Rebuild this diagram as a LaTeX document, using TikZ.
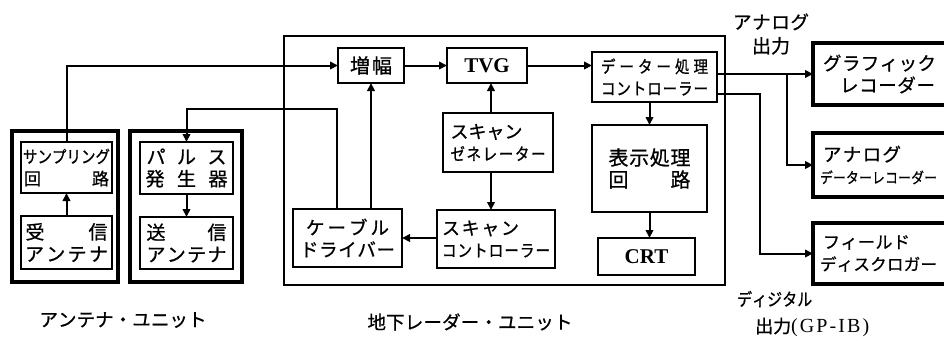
\documentclass[tikz,border=0pt]{standalone}
\usepackage{fontspec}
\setmainfont{Liberation Serif}
\newfontfamily\jp[FakeBold=0.8]{Noto Sans CJK JP}
\newfontfamily\jpc[FakeStretch=0.85,FakeBold=0.8]{Noto Sans CJK JP}
\usetikzlibrary{arrows.meta}
\def\jsA#1{#1\jsB}
\def\jsB#1{\ifx\relax#1\else\hfil#1\expandafter\jsB\fi}
\newcommand\spr[2]{\hbox to #1{\jsA#2\relax}}
\newcommand\fsz[1]{\fontsize{#1}{22}\selectfont}
\begin{document}
\begin{tikzpicture}[x=1pt,y=-1pt,
  box/.style={draw, line width=1.6pt, inner sep=0pt, outer sep=0pt, align=center},
  unit/.style={draw, line width=3.2pt, inner sep=0pt, outer sep=0pt},
  dev/.style={draw, line width=3.2pt, anchor=west, text width=130pt, inner xsep=10pt, inner ysep=0pt, outer sep=0pt, align=left, font=\jp\fsz{18.5}},
  arr/.style={line width=2pt, -{Triangle[length=8pt,width=7.5pt]}},
  lbl/.style={inner sep=0pt}]
\fill[white] (0,0) rectangle (944,340);
\useasboundingbox (0,0) rectangle (944,340);
\clip (0,0) rectangle (944,340);

% unit frames
\node[unit, minimum width=106pt, minimum height=151pt] (antA) at (65,206.5) {};
\node[unit, minimum width=112pt, minimum height=151pt] (antB) at (186,206.5) {};
\node[unit, line width=2.6pt, minimum width=441pt, minimum height=249pt] (radar) at (504.5,160.5) {};

% antenna unit
\node[box, minimum width=91pt, minimum height=51pt, font=\jp\fsz{17}] (samp) at (66.5,167.5) {{\jpc\spr{87pt}{サンプリング}}\\\spr{85pt}{回路}};
\node[box, minimum width=91pt, minimum height=53pt, font=\jp\fsz{19}] (recv) at (66.5,242.5) {\spr{82pt}{受信}\\\spr{83pt}{アンテナ}};
\node[box, minimum width=93pt, minimum height=52pt, font=\jp\fsz{19}] (pulse) at (186.5,168) {\spr{80pt}{パルス}\\\spr{82pt}{発生器}};
\node[box, minimum width=93pt, minimum height=52pt, font=\jp\fsz{19}] (send) at (186.5,243) {\spr{80pt}{送信}\\\spr{80pt}{アンテナ}};

% radar unit
\node[box, minimum width=66pt, minimum height=35pt, font=\jp\fsz{20}] (amp) at (371,65.5) {\spr{42pt}{増幅}};
\node[box, minimum width=80pt, minimum height=35pt, font=\bfseries\fsz{21}] (tvg) at (487,65.5) {TVG};
\node[box, minimum width=125pt, minimum height=50pt, font=\jpc\fsz{17}] (data) at (654.5,77) {\spr{107pt}{データー処理}\\\spr{107pt}{コントローラー}};
\node[box, align=left, minimum width=110pt, minimum height=59pt, font=\jp\fsz{18}] (sgen) at (498,142.5) {\spr{72pt}{スキャン}\\{\jpc\fsz{17}\spr{95pt}{ゼネレーター}}};
\node[box, align=left, minimum width=118pt, minimum height=58pt, font=\jp\fsz{18}] (sctl) at (496,239) {\spr{77pt}{スキャン}\\{\jpc\fsz{17}\spr{108pt}{コントローラー}}};
\node[box, minimum width=109pt, minimum height=58pt, font=\jp\fsz{18.5}] (cable) at (347.5,238) {\spr{83pt}{ケーブル}\\\spr{95pt}{ドライバー}};
\node[box, minimum width=115pt, minimum height=87pt, font=\jp\fsz{20}] (disp) at (649.5,168.5) {\spr{82pt}{表示処理}\\\spr{82pt}{回路}};
\node[box, minimum width=97pt, minimum height=37pt, font=\bfseries\fsz{21}] (crt) at (646.5,256.5) {CRT};

% output devices
\node[dev, minimum height=62pt] (graph) at (813,74) {\spr{113pt}{グラフィック}\\\hspace*{17pt}\spr{95pt}{レコーダー}};
\node[dev, minimum height=64pt] (anrec) at (813,165) {\spr{78pt}{アナログ}\\{\hspace*{-3pt}\jpc\fsz{15}\spr{117pt}{データーレコーダー}}};
\node[dev, minimum height=61pt] (field) at (813,253.5) {{\fsz{17}\spr{87pt}{フィールド}}\\{\hspace*{-3pt}\fsz{16.5}\spr{117pt}{ディスクロガー}}};

% labels
\node[lbl, align=center, font=\jp\fsz{18.5}] (aout) at (771,34) {\spr{76pt}{アナログ}\\[2pt]{\fsz{19}\spr{38pt}{出力}}};
\node[lbl, align=left, anchor=west, font=\jp\fsz{18}] (dout) at (737,314) {{\jpc\fsz{17.5}\spr{75pt}{ディジタル}}\\[5pt]\hspace*{18pt}出力{\rmfamily\fsz{20}\spr{78pt}{(GP-IB)}}};
\node[lbl, font=\jp\fsz{18.5}] (antlbl) at (123,320) {\spr{167pt}{アンテナ・ユニット}};
\node[lbl, font=\jp\fsz{18.5}] (radlbl) at (470,322) {\spr{205pt}{地下レーダー・ユニット}};

% connectors
\draw[arr] (recv.north) -- (samp.south);
\draw[arr] (samp.north) |- (amp.west);
\draw[arr] (amp.east) -- (tvg.west);
\draw[arr] (tvg.east) -- (tvg.east -| data.west);
\draw[arr] ([xshift=-7pt]sgen.north) -- ([xshift=-7pt]sgen.north |- tvg.south);
\draw[arr] ([xshift=-7pt]sgen.south) -- ([xshift=-7pt]sgen.south |- sctl.north);
\draw[arr] (sctl.west |- cable.east) -- (cable.east);
\draw[arr] (cable.north -| amp.south) -- (amp.south);
\coordinate (pk) at (186.5,109);
\draw[arr] ([xshift=-10.5pt]cable.north) |- (pk) -- (pulse.north);
\draw[arr] (pulse.south) -- (send.north);
\draw[arr] (data.south -| disp.north) -- (disp.north);
\draw[arr] (disp.south) -- (disp.south |- crt.north);
\coordinate (br1) at (787,74);
\coordinate (br2) at (760,94);
\draw[arr] (data.east |- graph.west) -- (graph.west);
\draw[arr] (br1) |- (anrec.west);
\draw[arr] (data.east |- br2) -- (br2) |- (field.west);
\end{tikzpicture}
\end{document}
